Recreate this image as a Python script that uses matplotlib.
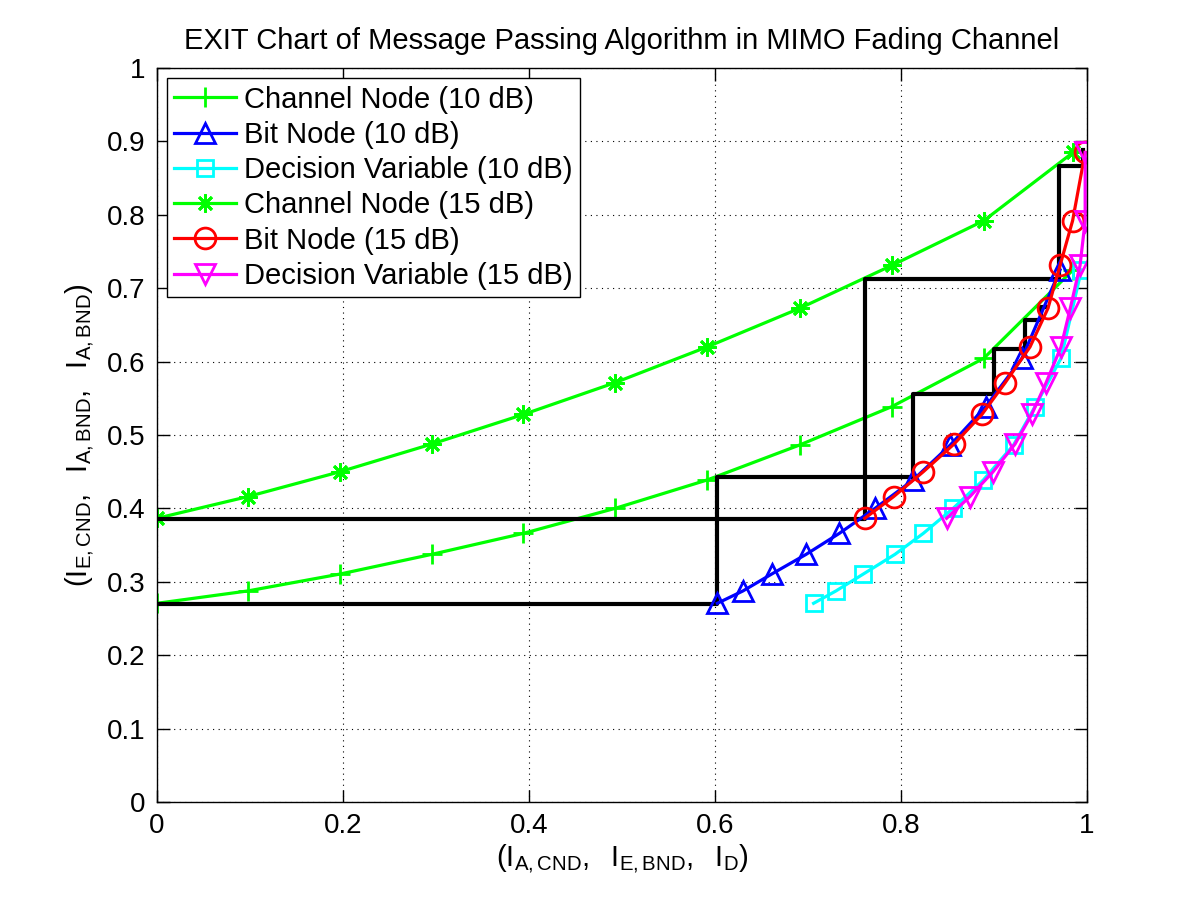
import numpy as np
import matplotlib
matplotlib.use('Agg')
import matplotlib.pyplot as plt

plt.rcParams['font.family'] = ['Liberation Sans', 'DejaVu Sans']
plt.rcParams['mathtext.fontset'] = 'custom'
plt.rcParams['mathtext.rm'] = 'Liberation Sans'
plt.rcParams['mathtext.it'] = 'Liberation Sans'
plt.rcParams['mathtext.default'] = 'regular'

# channel node curves (x = I_A,CND)
x_cnd = [0, 0.0975, 0.197, 0.2955, 0.394, 0.4925, 0.5915, 0.691, 0.790, 0.889, 0.985]
cnd_10 = [0.2707, 0.2875, 0.3106, 0.3374, 0.366, 0.400, 0.4387, 0.4864, 0.5386, 0.6045, 0.725]
cnd_15 = [0.3865, 0.416, 0.450, 0.4877, 0.528, 0.5713, 0.620, 0.6726, 0.731, 0.792, 0.885]

# bit node / decision variable curves (x = I_E,BND or I_D)
bnd_10 = [0.6025, 0.630, 0.661, 0.698, 0.7337, 0.772, 0.813, 0.853, 0.891, 0.930, 0.971]
dec_10 = [0.706, 0.730, 0.7595, 0.7935, 0.824, 0.856, 0.8885, 0.921, 0.944, 0.972, 0.994]
bnd_15 = [0.761, 0.792, 0.824, 0.857, 0.887, 0.912, 0.9387, 0.958, 0.971, 0.9845, 0.998]
dec_15 = [0.849, 0.874, 0.899, 0.9226, 0.9405, 0.956, 0.972, 0.982, 0.9925, 0.998, 0.998]

# decoding trajectories
traj10_x = [0, 0.602, 0.602, 0.813, 0.813, 0.8995, 0.8995, 0.9335, 0.9335, 0.951, 0.951, 0.9566]
traj10_y = [0.27, 0.27, 0.443, 0.443, 0.5554, 0.5554, 0.617, 0.617, 0.657, 0.657, 0.675, 0.675]
traj15_x = [0, 0.761, 0.761, 0.970, 0.970, 0.996, 0.996]
traj15_y = [0.3856, 0.3856, 0.7125, 0.7125, 0.8665, 0.8665, 0.888]

fig = plt.figure(figsize=(12.01, 9.01), dpi=100)
ax = fig.add_axes([0.1307, 0.1099, 0.7744, 0.8146])

lw = 2.3
ms = 15
mew = 2.0
green = (0, 1, 0)
h1, = ax.plot(x_cnd, cnd_10, '-+', color=green, lw=lw, ms=ms, mew=mew, label='Channel Node (10 dB)')
h4, = ax.plot(x_cnd, cnd_15, '-', marker=(8, 2, 0), color=green, lw=lw, ms=13, mew=mew,
              label='Channel Node (15 dB)')
ax.plot(traj10_x, traj10_y, 'k-', lw=3)
ax.plot(traj15_x, traj15_y, 'k-', lw=3)
h2, = ax.plot(bnd_10, cnd_10, '-^', color=(0, 0, 1), lw=lw, ms=ms, mew=mew, mfc='none', label='Bit Node (10 dB)')
h3, = ax.plot(dec_10, cnd_10, '-s', color=(0, 1, 1), lw=lw, ms=11.5, mew=mew, mfc='none', label='Decision Variable (10 dB)')
h5, = ax.plot(bnd_15, cnd_15, '-o', color=(1, 0, 0), lw=lw, ms=ms, mew=mew, mfc='none', label='Bit Node (15 dB)')
h6, = ax.plot(dec_15, cnd_15, '-v', color=(1, 0, 1), lw=lw, ms=ms, mew=mew, mfc='none', label='Decision Variable (15 dB)')

ax.set_xlim(0, 1)
ax.set_ylim(0, 1)
ax.set_xticks(np.arange(0, 1.01, 0.2))
ax.set_xticklabels(['0', '0.2', '0.4', '0.6', '0.8', '1'])
ax.set_yticks(np.arange(0, 1.01, 0.1))
ax.set_yticklabels(['0', '0.1', '0.2', '0.3', '0.4', '0.5', '0.6', '0.7', '0.8', '0.9', '1'])
ax.tick_params(direction='in', top=True, right=True, labelsize=20, length=9, width=1, pad=8)
ax.grid(True, linestyle=(0, (1, 4)), color='k', lw=0.8)
for s in ax.spines.values():
    s.set_linewidth(1)

ax.set_title('EXIT Chart of Message Passing Algorithm in MIMO Fading Channel', fontsize=21, pad=14)
ax.set_xlabel(r'$(I_{A,CND},\ \ I_{E,BND},\ \ I_D)$', fontsize=21, labelpad=2)
ax.set_ylabel(r'$(I_{E,CND},\ \ I_{A,BND},\ \ I_{A,BND})$', fontsize=21, labelpad=8)

leg = ax.legend(handles=[h1, h2, h3, h4, h5, h6], loc='upper left', fontsize=21,
                fancybox=False, edgecolor='k', framealpha=1, handlelength=2.1,
                handletextpad=0.3, borderaxespad=0.35, labelspacing=0.25, borderpad=0.25)
leg.get_frame().set_linewidth(1)

fig.savefig('out.png', dpi=100)
